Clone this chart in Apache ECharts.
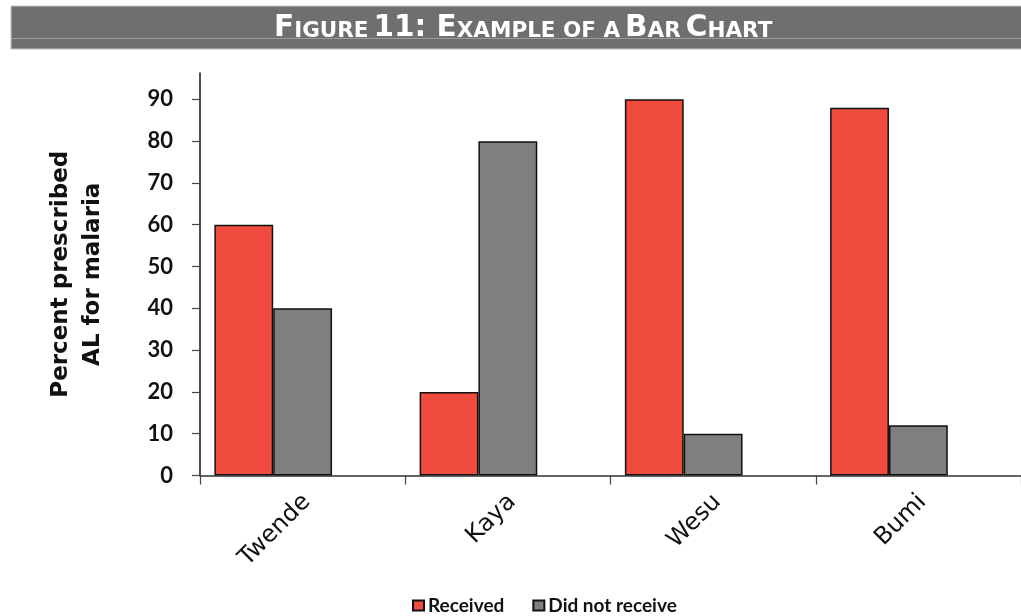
<!DOCTYPE html>
<html>
<head>
<meta charset="utf-8">
<script src="https://cdn.jsdelivr.net/npm/echarts@6/dist/echarts.min.js"></script>
<style>
  html, body { margin: 0; padding: 0; background: #ffffff; }
  #chart { width: 1021px; height: 616px; }
</style>
</head>
<body>
<div id="chart"></div>
<script>
// Share of patients prescribed AL for malaria, by facility
const categories = ['Twende', 'Kaya', 'Wesu', 'Bumi'];
const received = [60, 20, 90, 88];
const notReceived = [40, 80, 10, 12];
// third, empty slot in every group keeps the two bars left of the band centre
const spacer = [null, null, null, null];
const yTicks = [0, 10, 20, 30, 40, 50, 60, 70, 80, 90];

const chart = echarts.init(document.getElementById('chart'), null, { renderer: 'canvas' });

const big = { fontFamily: 'DejaVu Sans', fontWeight: 'bold', fontSize: 29.5, color: '#ffffff', lineHeight: 32, verticalAlign: 'bottom' };
const small = { fontFamily: 'DejaVu Sans', fontWeight: 'bold', fontSize: 21.5, color: '#ffffff', lineHeight: 32, verticalAlign: 'bottom', padding: [0, 0, 1, 0] };

chart.setOption({
  animation: false,
  backgroundColor: '#ffffff',
  graphic: [
    { type: 'rect', shape: { x: 11, y: 6, width: 1015, height: 43 },
      style: { fill: '#6f706e', stroke: '#c4c4c4', lineWidth: 1 }, z: 0 },
    { type: 'line', shape: { x1: 11, y1: 38.5, x2: 1021, y2: 38.5 },
      style: { stroke: '#9c9d9b', lineWidth: 1 }, z: 1 }
  ],
  title: {
    text: '{b|F}{s|IGURE} {b|11: E}{s|XAMPLE OF A} {b|B}{s|AR} {b|C}{s|HART}',
    left: 274,
    top: 11,
    padding: 0,
    textStyle: {
      rich: { b: big, s: small }
    },
    z: 5
  },
  legend: {
    data: ['Received', 'Did not receive'],
    bottom: -4,
    left: 407,
    itemWidth: 11,
    itemHeight: 10,
    itemGap: 28,
    icon: 'rect',
    textStyle: { fontFamily: 'Lato', fontWeight: 'bold', fontSize: 19, color: '#111111', padding: [0, 0, 0, -1] }
  },
  grid: { left: 200, right: 0, top: 73, height: 402.5, containLabel: false },
  xAxis: {
    type: 'category',
    data: categories,
    boundaryGap: true,
    axisLine: { lineStyle: { color: '#333333', width: 1.5 } },
    axisTick: { show: true, length: 9, lineStyle: { color: '#444444', width: 1.2 } },
    axisLabel: {
      rotate: 45,
      margin: 27,
      padding: [0, -6, 0, 0],
      fontFamily: 'DejaVu Sans',
      fontSize: 24,
      color: '#111111'
    },
    splitLine: { show: false }
  },
  yAxis: {
    type: 'value',
    min: 0,
    max: 96.3,
    name: 'Percent prescribed\nAL for malaria',
    nameLocation: 'middle',
    nameRotate: 90,
    nameGap: 91,
    nameTextStyle: { fontFamily: 'DejaVu Sans', fontWeight: 'bold', fontSize: 23, color: '#111111', lineHeight: 32 },
    axisLine: { show: true, lineStyle: { color: '#111111', width: 1.5 } },
    axisTick: { show: true, length: 8, customValues: yTicks, lineStyle: { color: '#444444', width: 1.2 } },
    axisLabel: {
      customValues: yTicks,
      margin: 27,
      fontFamily: 'Lato',
      fontWeight: 'bold',
      fontSize: 22,
      color: '#111111'
    },
    splitLine: { show: false }
  },
  series: [
    {
      name: 'Received', type: 'bar', data: received,
      barGap: '0%', barCategoryGap: '14%',
      itemStyle: { color: '#ef4b3f', borderColor: '#111111', borderWidth: 1.5 }
    },
    {
      name: 'Did not receive', type: 'bar', data: notReceived,
      itemStyle: { color: '#7f7f7e', borderColor: '#111111', borderWidth: 1.5 }
    },
    {
      name: 'spacer', type: 'bar', data: spacer,
      itemStyle: { color: 'transparent' }
    }
  ]
});
</script>
</body>
</html>
